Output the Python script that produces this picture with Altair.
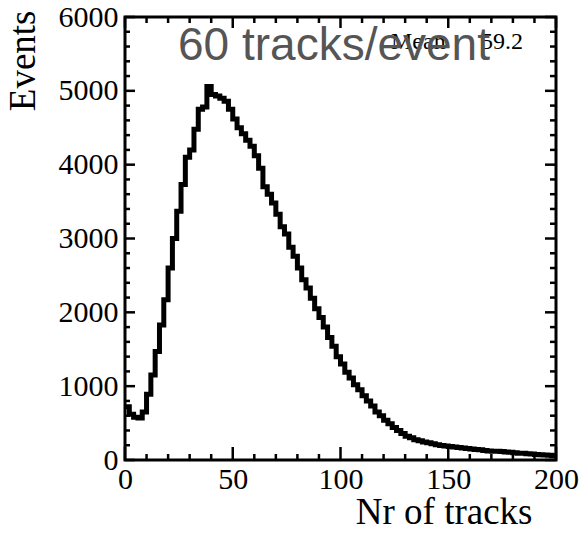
import altair as alt
import pandas as pd

# ---- data ----
bin_starts = list(range(0, 200, 2))
counts = [
    720, 620, 580, 570, 650, 890, 1150, 1470, 1830, 2170,
    2600, 3000, 3370, 3730, 4100, 4200, 4480, 4750, 4780, 5060,
    4950, 4930, 4900, 4860, 4750, 4620, 4500, 4420, 4330, 4250,
    4120, 3950, 3700, 3600, 3480, 3330, 3160, 3060, 2880, 2760,
    2600, 2440, 2330, 2190, 2050, 1930, 1800, 1660, 1540, 1400,
    1300, 1190, 1110, 1020, 950, 870, 800, 730, 650, 600,
    540, 490, 440, 400, 360, 320, 300, 275, 260, 245,
    235, 220, 205, 198, 190, 183, 175, 168, 162, 155,
    150, 143, 138, 130, 122, 120, 118, 115, 108, 104,
    98, 93, 90, 85, 82, 76, 72, 68, 63, 58,
]
x_ticks_major = [0, 50, 100, 150, 200]
x_ticks_minor = [v for v in range(0, 201, 10) if v % 50 != 0]
y_ticks_major = [0, 1000, 2000, 3000, 4000, 5000, 6000]
y_ticks_minor = [v for v in range(0, 6001, 200) if v % 1000 != 0]

hist_df = pd.DataFrame({"x": bin_starts + [200], "y": counts + [counts[-1]]})

W, H = 431, 443
SERIF = "Liberation Serif"

x_scale = alt.Scale(domain=[0, 200], nice=False, zero=False)
y_scale = alt.Scale(domain=[0, 6000], nice=False)

hist = alt.Chart(hist_df).mark_line(
    interpolate="step-after", color="black", strokeWidth=5, strokeJoin="miter"
).encode(
    x=alt.X("x:Q", scale=x_scale, axis=alt.Axis(
        values=x_ticks_major, ticks=False, domain=False, grid=False, format="d",
        labelFont=SERIF, labelFontSize=30, labelColor="black", labelPadding=4,
        labelFlush=False, labelOverlap=False,
        title="Nr of tracks", titleFont=SERIF, titleFontSize=37,
        titleFontWeight="normal", titleColor="black", titleAlign="right",
        titleBaseline="alphabetic", titleX=407, titleY=63,
    )),
    y=alt.Y("y:Q", scale=y_scale, axis=alt.Axis(
        values=y_ticks_major, ticks=False, domain=False, grid=False, format="d",
        labelFont=SERIF, labelFontSize=30, labelColor="black", labelPadding=7,
        labelOverlap=False,
        title="Events", titleFont=SERIF, titleFontSize=37,
        titleFontWeight="normal", titleColor="black", titleAngle=270,
        titleAlign="right", titleBaseline="alphabetic", titleX=-91, titleY=-7,
    )),
)


def xticks(vals, length, top):
    d = pd.DataFrame({"v": vals})
    if top:
        y0, y1 = 0, length
    else:
        y0, y1 = H, H - length
    return alt.Chart(d).mark_rule(color="black", strokeWidth=2.5).encode(
        x=alt.X("v:Q", scale=x_scale), y=alt.value(y0), y2=alt.value(y1)
    )


def yticks(vals, length, right):
    d = pd.DataFrame({"v": vals})
    if right:
        x0, x1 = W, W - length
    else:
        x0, x1 = 0, length
    return alt.Chart(d).mark_rule(color="black", strokeWidth=2.5).encode(
        y=alt.Y("v:Q", scale=y_scale), x=alt.value(x0), x2=alt.value(x1)
    )


ticks = [
    xticks(x_ticks_major, 13, False), xticks(x_ticks_minor, 6, False),
    xticks(x_ticks_major, 11, True), xticks(x_ticks_minor, 6, True),
    yticks(y_ticks_major, 10, False), yticks(y_ticks_minor, 5, False),
    yticks(y_ticks_major, 11, True), yticks(y_ticks_minor, 6, True),
]

label_big = alt.Chart(pd.DataFrame({"t": ["60 tracks/event"]})).mark_text(
    font="Liberation Sans", fontSize=46, color="#555555", align="left",
    baseline="alphabetic"
).encode(text="t:N", x=alt.value(53), y=alt.value(43))

mean_lbl = alt.Chart(pd.DataFrame({"t": ["Mean"]})).mark_text(
    font=SERIF, fontSize=24, color="black", align="left", baseline="alphabetic"
).encode(text="t:N", x=alt.value(266), y=alt.value(32))

mean_val = alt.Chart(pd.DataFrame({"t": ["59.2"]})).mark_text(
    font=SERIF, fontSize=24, color="black", align="right", baseline="alphabetic"
).encode(text="t:N", x=alt.value(398), y=alt.value(32))

chart = alt.layer(hist, *ticks, mean_lbl, mean_val, label_big).properties(
    width=W, height=H,
    autosize=alt.AutoSizeParams(type="none"),
    padding={"left": 125, "top": 17, "right": 25, "bottom": 80},
    background="white",
).configure_view(stroke="black", strokeWidth=3)

chart.save("out.html", embed_options={"renderer": "svg", "actions": False})
